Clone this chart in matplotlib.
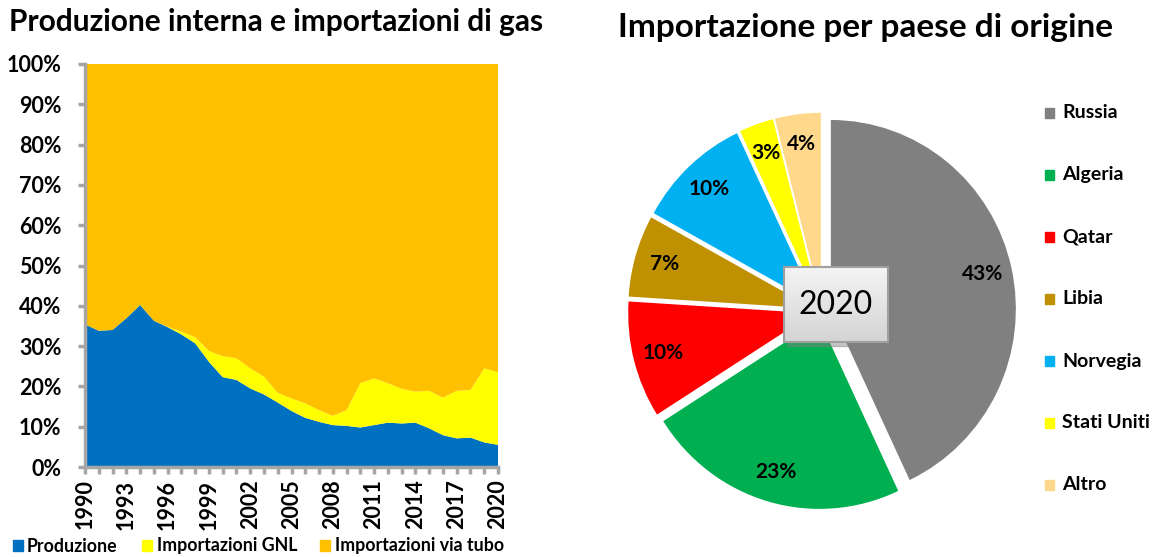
import numpy as np
import matplotlib
matplotlib.use('Agg')
import matplotlib.pyplot as plt
from matplotlib.patches import Rectangle

plt.rcParams['font.family'] = ['Lato', 'DejaVu Sans']

# dati: quote percentuali
anni = list(range(1990, 2021))
produzione = [35.4, 33.8, 34.0, 36.9, 40.2, 36.3, 34.7, 32.9, 30.7, 26.1, 22.3,
              21.6, 19.5, 18.0, 16.0, 13.9, 12.2, 11.2, 10.4, 10.2, 9.8,
              10.4, 11.0, 10.8, 11.0, 9.6, 7.9, 7.1, 7.3, 6.1, 5.5]
gnl = [0.0, 0.0, 0.0, 0.0, 0.0, 0.0, 0.1, 0.7, 1.5, 2.7, 5.2,
       5.4, 5.0, 4.4, 2.4, 3.1, 3.6, 2.9, 2.3, 3.9, 11.0,
       11.6, 9.8, 8.6, 7.7, 9.3, 9.3, 11.8, 11.8, 18.4, 18.0]
tubo = [100 - p - g for p, g in zip(produzione, gnl)]
serie_nomi = ['Produzione', 'Importazioni GNL', 'Importazioni via tubo']
serie_colori = ['#0070C0', '#FFFF00', '#FFC000']

paesi = ['Russia', 'Algeria', 'Qatar', 'Libia', 'Norvegia', 'Stati Uniti', 'Altro']
quote = [43, 23, 10, 7, 10, 3, 4]
paesi_colori = ['#808080', '#00B050', '#FF0000', '#BF9000', '#00B0F0', '#FFFF00', '#FFD88C']

W, H = 1157, 557
def fx(x):
    return x / W
def fy(y):
    return 1 - y / H

fig = plt.figure(figsize=(W / 100, H / 100), dpi=100)
grigio = '#A6A6A6'

# --- grafico ad area ---
ax = fig.add_axes([fx(85), fy(467), (498 - 85) / W, (467 - 64) / H])
ax.stackplot(anni, produzione, gnl, tubo, colors=serie_colori, linewidth=0)
ax.set_xlim(1990, 2020)
ax.set_ylim(0, 100)
ax.set_yticks(range(0, 101, 10))
ax.set_yticklabels([f'{v}%' for v in range(0, 101, 10)])
ax.set_xticks(anni)
ax.set_xticklabels([str(a) if (a - 1990) % 3 == 0 else '' for a in anni], rotation=90)
for s in ['top', 'right']:
    ax.spines[s].set_visible(False)
for s in ['left', 'bottom']:
    ax.spines[s].set_color(grigio)
    ax.spines[s].set_linewidth(2.5)
ax.tick_params(axis='both', color=grigio, width=2.5, length=5, labelsize=15.5)
ax.tick_params(axis='y', pad=12)
ax.tick_params(axis='x', pad=4)
for lab in ax.get_xticklabels() + ax.get_yticklabels():
    lab.set_fontweight('bold')

fig.text(fx(9), fy(22), 'Produzione interna e importazioni di gas',
         fontsize=21.5, fontweight='bold', va='center')

# legenda in basso
for nome, col, sx, tx in zip(serie_nomi, serie_colori, [13, 142, 320], [27, 157, 335]):
    fig.patches.append(Rectangle((fx(sx), fy(551)), 10 / W, 11 / H, color=col,
                                 transform=fig.transFigure))
    fig.text(fx(tx), fy(546), nome, fontsize=12.8, fontweight='bold', va='center')

# --- grafico a torta ---
cx, cy, rx, ry = 822, 311, 185, 189
pax = fig.add_axes([fx(cx - 1.3 * rx), fy(cy + 1.3 * ry), 2.6 * rx / W, 2.6 * ry / H])
wedges, texts, autotexts = pax.pie(
    quote, colors=paesi_colori, startangle=90, counterclock=False,
    explode=[0.049] * len(quote), autopct=lambda p: f'{p:.0f}%', pctdistance=0.84,
    textprops=dict(fontsize=15, fontweight='bold', color='black'),
    wedgeprops=dict(linewidth=0))
pax.set_aspect('auto')
pax.set_xlim(-1.3, 1.3)
pax.set_ylim(-1.3, 1.3)
pax.axis('off')

fig.text(fx(866), fy(27), 'Importazione per paese di origine',
         fontsize=24, fontweight='bold', ha='center', va='center')

# riquadro centrale 2020
fig.patches.append(Rectangle((fx(787), fy(346)), 104 / W, 75 / H, color='#7F7F7F',
                             alpha=0.45, transform=fig.transFigure, zorder=5))
bax = fig.add_axes([fx(784), fy(342), 104 / W, 75 / H], zorder=10)
grad = np.linspace(0, 1, 100).reshape(-1, 1)
bax.imshow(grad, cmap=matplotlib.colors.LinearSegmentedColormap.from_list('g', ['#F4F4F4', '#D4D4D4']),
           aspect='auto', extent=[0, 1, 0, 1])
bax.set_xticks([])
bax.set_yticks([])
for s in bax.spines.values():
    s.set_color('#A0A0A0')
    s.set_linewidth(1.5)
bax.text(0.5, 0.5, '2020', ha='center', va='center', fontsize=23, transform=bax.transAxes)

# legenda a destra
for i, (nome, col) in enumerate(zip(paesi, paesi_colori)):
    y = 113 + 62 * i
    fig.patches.append(Rectangle((fx(1045), fy(y + 5)), 9 / W, 10 / H, color=col,
                                 transform=fig.transFigure))
    fig.text(fx(1062), fy(y), nome, fontsize=14, fontweight='bold', va='center')

fig.savefig('out.png', dpi=100)
